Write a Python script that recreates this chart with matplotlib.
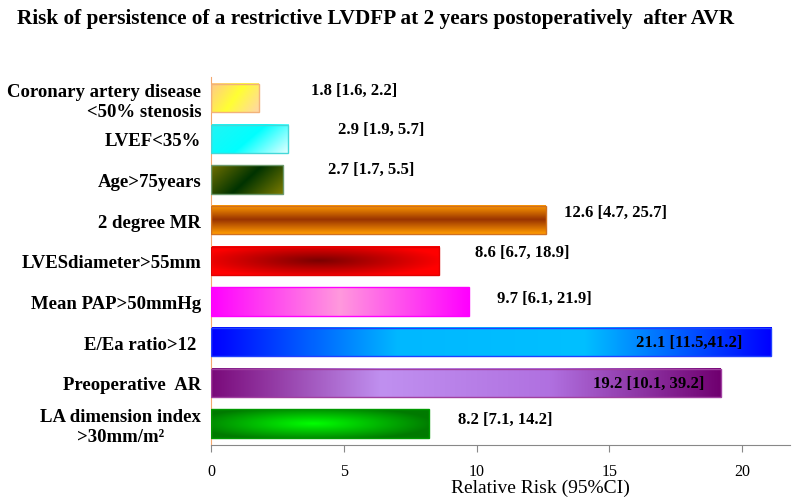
"""Horizontal gradient bar chart: relative risk of persistent restrictive LVDFP."""

import numpy as np
import matplotlib
matplotlib.use("Agg")
import matplotlib.pyplot as plt
from matplotlib.colors import to_rgb

# data (top to bottom as in the figure)
categories = [
    "Coronary artery disease\n<50% stenosis",
    "LVEF<35%",
    "Age>75years",
    "2 degree MR",
    "LVESdiameter>55mm",
    "Mean PAP>50mmHg",
    "E/Ea ratio>12 ",
    "Preoperative  AR",
    "LA dimension index\n>30mm/m\u00b2",
]
relative_risk = [1.8, 2.9, 2.7, 12.6, 8.6, 9.7, 21.1, 19.2, 8.2]
ci_low = [1.6, 1.9, 1.7, 4.7, 6.7, 6.1, 11.5, 10.1, 7.1]
ci_high = [2.2, 5.7, 5.5, 25.7, 18.9, 21.9, 41.2, 39.2, 14.2]

# annotation placement (data x, y offset from bar centre)
label_x = [3.77, 4.78, 4.4, 13.3, 9.94, 10.77, 16.0, 14.4, 9.3]
label_dy = [0.2, 0.25, 0.27, 0.21, 0.22, 0.1, 0.0, 0.0, 0.11]

# gradient styles: (kind, colour stops, edge colour)
STYLES = [
    ("diag", ["#ffc98a", "#ffff33", "#ffd6a8"], "#f2b27a"),
    ("diag", ["#22f4f4", "#00ffff", "#e6ffff"], "#44d8d8"),
    ("diag", ["#707000", "#003300", "#7a7a00"], "#6e9a6e"),
    ("vert", ["#ff9a00", "#993300", "#ff9a00"], "#d07020"),
    ("ellipse", ["#7a0000", "#ff0000"], "#e00000"),
    ("horiz", ["#ff00ff", "#ff99dd", "#ff00ff"], "#ff00ff"),
    ("horiz", ["#0000ff", "#00b8ff", "#00c0ff", "#0000ff"], "#2040ff"),
    ("horiz", ["#7a0a7a", "#c090f0", "#b070e0", "#700070"], "#a040a0"),
    ("ellipse", ["#00ff00", "#007a00"], "#009900"),
]


def ramp(stops, t):
    """Piecewise linear colour ramp over evenly spaced stops."""
    cols = np.array([to_rgb(c) for c in stops])
    pos = np.linspace(0, 1, len(cols))
    out = np.empty(t.shape + (3,))
    for k in range(3):
        out[..., k] = np.interp(t, pos, cols[:, k])
    return out


def gradient(kind, stops, w=200, h=40):
    xx, yy = np.meshgrid(np.linspace(0, 1, w), np.linspace(0, 1, h))
    if kind == "diag":
        t = (xx * 0.7 + yy * 0.3)
    elif kind == "vert":
        t = yy
    elif kind == "horiz":
        t = xx
    else:
        t = np.clip(np.sqrt(((xx - 0.47) / 0.55) ** 2 + ((yy - 0.5) / 0.6) ** 2), 0, 1)
    return ramp(stops, t)


plt.rcParams["font.family"] = ["Liberation Serif", "DejaVu Serif"]

fig = plt.figure(figsize=(7.99, 5.02), dpi=100)
ax = fig.add_axes([0.2641, 0.1116, 0.7246, 0.733])

n = len(categories)
ypos = np.arange(n)[::-1]
bar_h = 0.70

for i in range(n):
    kind, stops, edge = STYLES[i]
    y = ypos[i]
    v = relative_risk[i]
    img = gradient(kind, stops)
    ax.imshow(img, extent=[0, v, y - bar_h / 2, y + bar_h / 2],
              aspect="auto", origin="upper", zorder=2, interpolation="bilinear")
    ax.barh(y, v, height=bar_h, facecolor="none", edgecolor=edge,
            linewidth=1.0, zorder=3)
    txt = f"{v} [{ci_low[i]}, {ci_high[i]}]"
    if i == 6:
        txt = f"{v} [{ci_low[i]},{ci_high[i]}]"
    ax.text(label_x[i], y + label_dy[i], txt, ha="left", va="center",
            fontsize=12, fontweight="bold", zorder=4)

ax.set_xlim(0, 21.8)
ax.set_ylim(-0.53, n - 1 + 0.52)
ax.set_yticks(ypos)
ax.set_yticklabels(categories, fontsize=13.5, fontweight="bold")
ylabels = ax.get_yticklabels()
for lbl in ylabels:
    lbl.set_multialignment("right")
ylabels[8].set_multialignment("center")
ax.tick_params(axis="y", length=0, pad=7)

ax.set_xticks([0, 5, 10, 15, 20])
ax.tick_params(axis="x", direction="out", length=5, color="#888888",
               labelsize=11.5, pad=8)

for side in ["top", "right"]:
    ax.spines[side].set_visible(False)
ax.spines["left"].set_color("#f4a870")
ax.spines["bottom"].set_color("#888888")

fig.text(0.677, 0.028, "Relative Risk (95%CI)", ha="center", va="center",
         fontsize=14)
fig.text(0.47, 0.962,
         "Risk of persistence of a restrictive LVDFP at 2 years postoperatively  after AVR",
         ha="center", va="center", fontsize=15.3, fontweight="bold")

fig.savefig("out.png", dpi=100)
